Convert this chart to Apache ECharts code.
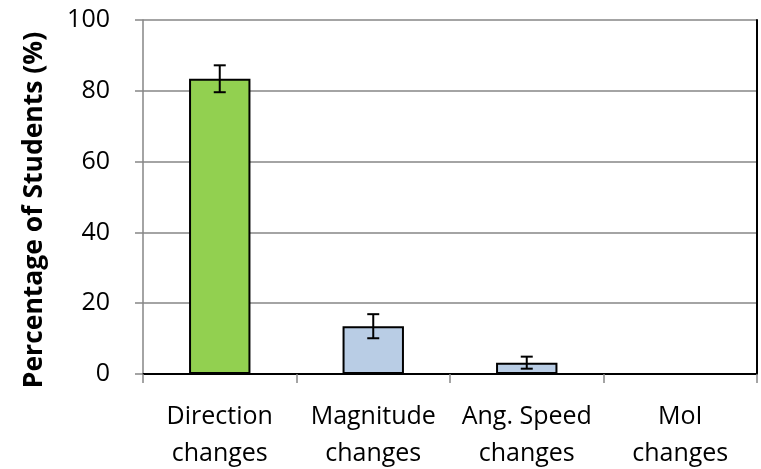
<!DOCTYPE html>
<html>
<head>
<meta charset="utf-8">
<script src="https://cdn.jsdelivr.net/npm/echarts@6/dist/echarts.min.js"></script>
<style>
  html, body { margin: 0; padding: 0; background: #fff; }
  #chart { width: 761px; height: 469px; }
</style>
</head>
<body>
<div id="chart"></div>
<script>
var categories = ['Direction\nchanges', 'Magnitude\nchanges', 'Ang. Speed\nchanges', 'MoI\nchanges'];
var values = [83.4, 13.5, 3.2, 0];
var errors = [3.8, 3.4, 1.7, 0];
var barColors = ['#92D050', '#B9CDE5', '#B9CDE5', '#B9CDE5'];
var yTicks = [0, 20, 40, 60, 80, 100];

var chart = echarts.init(document.getElementById('chart'));

var barData = values.map(function (v, i) {
  return { value: v, itemStyle: { color: barColors[i] } };
});
var errData = values.map(function (v, i) {
  return [i, v - errors[i], v + errors[i]];
});

var option = {
  animation: false,
  textStyle: { fontFamily: 'Open Sans' },
  grid: { left: 143, right: 4, top: 20, bottom: 95, outerBoundsMode: 'none' },
  xAxis: [
    {
      type: 'category',
      data: categories,
      axisLine: { lineStyle: { color: '#868686', width: 1.5 } },
      axisTick: { show: true, length: 9, lineStyle: { color: '#868686', width: 1.5 } },
      axisLabel: { color: '#000', fontSize: 25, lineHeight: 37, margin: 24, interval: 0 }
    },
    {
      // top border of the plot box
      type: 'category',
      position: 'top',
      data: categories,
      axisLine: { show: true, lineStyle: { color: '#000', width: 2 } },
      axisTick: { show: false },
      axisLabel: { show: false }
    }
  ],
  yAxis: [
    {
      type: 'value',
      min: yTicks[0],
      max: yTicks[yTicks.length - 1],
      interval: 20,
      name: 'Percentage of Students (%)',
      nameLocation: 'middle',
      nameGap: 95,
      nameTextStyle: { color: '#000', fontSize: 26.5, fontWeight: 'bold', padding: [0, 26, 0, 0] },
      axisLine: { show: true, lineStyle: { color: '#868686', width: 1.5 } },
      axisTick: { show: true, length: 8, lineStyle: { color: '#868686', width: 1.5 } },
      axisLabel: { color: '#000', fontSize: 25, margin: 33 },
      splitLine: { lineStyle: { color: '#868686', width: 1.5 } }
    },
    {
      // right border of the plot box
      type: 'value',
      position: 'right',
      min: yTicks[0],
      max: yTicks[yTicks.length - 1],
      interval: 20,
      axisLine: { show: true, lineStyle: { color: '#000', width: 2 } },
      axisTick: { show: false },
      axisLabel: { show: false },
      splitLine: { show: false }
    }
  ],
  series: [
    {
      type: 'bar',
      data: barData,
      barWidth: '40%',
      itemStyle: { borderColor: '#000', borderWidth: 2 }
    },
    {
      type: 'custom',
      data: errData,
      z: 10,
      renderItem: function (params, api) {
        var x = api.value(0);
        var lo = api.coord([x, api.value(1)]);
        var hi = api.coord([x, api.value(2)]);
        var hw = 6;
        var st = { stroke: '#000', lineWidth: 2 };
        return {
          type: 'group',
          children: [
            { type: 'line', shape: { x1: lo[0], y1: lo[1], x2: hi[0], y2: hi[1] }, style: st },
            { type: 'line', shape: { x1: lo[0] - hw, y1: lo[1], x2: lo[0] + hw, y2: lo[1] }, style: st },
            { type: 'line', shape: { x1: hi[0] - hw, y1: hi[1], x2: hi[0] + hw, y2: hi[1] }, style: st }
          ]
        };
      }
    }
  ]
};

chart.setOption(option);
</script>
</body>
</html>
